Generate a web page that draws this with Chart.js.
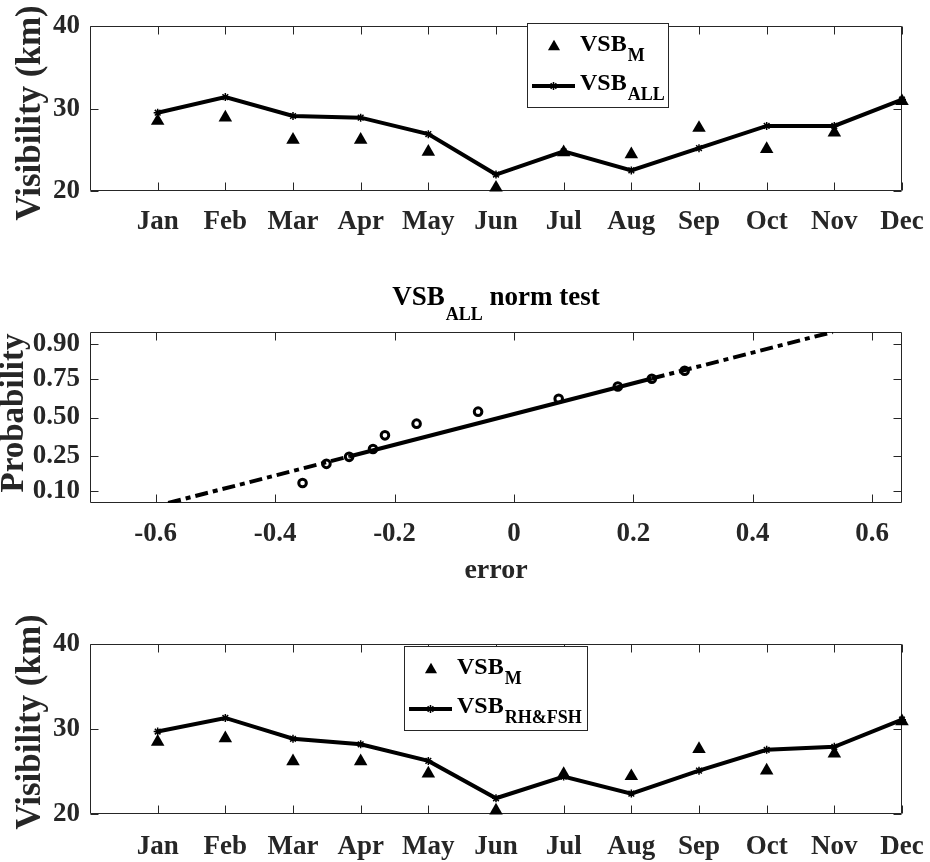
<!DOCTYPE html>
<html>
<head>
<meta charset="utf-8">
<script src="https://cdn.jsdelivr.net/npm/chart.js@4.4.0/dist/chart.umd.min.js"></script>
<style>
  body { margin: 0; background: #fff; width: 930px; height: 862px; overflow: hidden; position: relative; }
  .panel { position: absolute; left: 0; width: 930px; }
</style>
</head>
<body>
<div class="panel" style="top:0;height:250px"><canvas id="c1"></canvas></div>
<div class="panel" style="top:250px;height:350px"><canvas id="c2"></canvas></div>
<div class="panel" style="top:600px;height:262px"><canvas id="c3"></canvas></div>
<script>
// monthly visibility (km)
const months = ['Jan','Feb','Mar','Apr','May','Jun','Jul','Aug','Sep','Oct','Nov','Dec'];
const visTicks = [20, 30, 40];
const vsbM     = [28.5, 28.9, 26.2, 26.2, 24.75, 20.4, 24.7, 24.45, 27.65, 25.1, 27.1, 30.9];
const vsbAll   = [29.5, 31.4, 29.1, 28.9, 26.9, 22.0, 24.8, 22.5, 25.2, 27.9, 27.9, 31.1];
const vsbRhFsh = [29.7, 31.3, 28.85, 28.2, 26.25, 21.85, 24.4, 22.4, 25.1, 27.55, 27.9, 31.1];

// normal probability plot of the VSB_ALL error
const errX = [-0.354, -0.314, -0.276, -0.236, -0.216, -0.163, -0.060, 0.075, 0.174, 0.231, 0.286];
const errP = [0.125, 0.208, 0.245, 0.290, 0.377, 0.457, 0.541, 0.629, 0.707, 0.752, 0.794];
const fitX = [-0.579, -0.276, 0.231, 0.534];
const fitP = [0.0668, 0.247, 0.753, 0.9332];
const errTicks = [-0.6, -0.4, -0.2, 0, 0.2, 0.4, 0.6];
const probTicks = [0.10, 0.25, 0.50, 0.75, 0.90];
const probLabels = ['0.10', '0.25', '0.50', '0.75', '0.90'];

// inverse normal cdf (Acklam), used as the probability axis transform
function probit(p) {
  const a = [-39.69683028665376, 220.9460984245205, -275.9285104469687, 138.3577518672690, -30.66479806614716, 2.506628277459239];
  const b = [-54.47609879822406, 161.5858368580409, -155.6989798598866, 66.80131188771972, -13.28068155288572];
  const c = [-0.007784894002430293, -0.3223964580411365, -2.400758277161838, -2.549732539343734, 4.374664141464968, 2.938163982698783];
  const d = [0.007784695709041462, 0.3224671290700398, 2.445134137142996, 3.754408661907416];
  const pl = 0.02425;
  if (p < pl) {
    const q = Math.sqrt(-2 * Math.log(p));
    return (((((c[0]*q+c[1])*q+c[2])*q+c[3])*q+c[4])*q+c[5]) / ((((d[0]*q+d[1])*q+d[2])*q+d[3])*q+1);
  }
  if (p > 1 - pl) {
    const q = Math.sqrt(-2 * Math.log(1 - p));
    return -(((((c[0]*q+c[1])*q+c[2])*q+c[3])*q+c[4])*q+c[5]) / ((((d[0]*q+d[1])*q+d[2])*q+d[3])*q+1);
  }
  const q = p - 0.5, r = q * q;
  return (((((a[0]*r+a[1])*r+a[2])*r+a[3])*r+a[4])*r+a[5])*q / (((((b[0]*r+b[1])*r+b[2])*r+b[3])*r+b[4])*r+1);
}

const FONT = "'Liberation Serif', 'Times New Roman', Times, serif";
const INK = '#262626';
const tickFont = { family: FONT, size: 27, weight: 'bold' };

function subText(ctx, x, y, main, sub, size, subSize, drop) {
  ctx.font = 'bold ' + size + 'px ' + FONT;
  ctx.fillText(main, x, y);
  const w = ctx.measureText(main).width;
  ctx.font = 'bold ' + subSize + 'px ' + FONT;
  ctx.fillText(sub, x + w + 1, y + drop);
  return w + 1 + ctx.measureText(sub).width;
}

function triangle(ctx, cx, cy, r) {
  const h = 1.5 * r, hw = r * Math.sqrt(3) / 2;
  ctx.beginPath();
  ctx.moveTo(cx, cy - h / 2);
  ctx.lineTo(cx + hw, cy + h / 2);
  ctx.lineTo(cx - hw, cy + h / 2);
  ctx.closePath();
  ctx.fill();
}

function star(ctx, cx, cy, r) {
  ctx.lineWidth = 1.5;
  ctx.beginPath();
  ctx.moveTo(cx - r, cy); ctx.lineTo(cx + r, cy);
  ctx.moveTo(cx, cy - r); ctx.lineTo(cx, cy + r);
  const k = r * 0.707;
  ctx.moveTo(cx - k, cy - k); ctx.lineTo(cx + k, cy + k);
  ctx.moveTo(cx - k, cy + k); ctx.lineTo(cx + k, cy - k);
  ctx.stroke();
}

// box with inward ticks, like matlab axes
const frame = {
  id: 'frame',
  beforeDatasetsDraw(chart) {
    const { ctx, chartArea: a, scales: { x, y } } = chart;
    const L = Math.round(a.left) + 0.5, R = Math.round(a.right) - 0.5;
    const T = Math.round(a.top) + 0.5, B = Math.round(a.bottom) - 0.5;
    ctx.save();
    ctx.strokeStyle = INK;
    ctx.lineWidth = 1;
    ctx.beginPath();
    ctx.rect(L, T, R - L, B - T);
    x.ticks.forEach(t => {
      const px = Math.round(x.getPixelForValue(t.value)) + 0.5;
      ctx.moveTo(px, B); ctx.lineTo(px, B - 8);
      ctx.moveTo(px, T); ctx.lineTo(px, T + 8);
    });
    y.ticks.forEach(t => {
      const py = Math.round(y.getPixelForValue(t.value)) + 0.5;
      ctx.moveTo(L, py); ctx.lineTo(L + 8, py);
      ctx.moveTo(R, py); ctx.lineTo(R - 8, py);
    });
    ctx.stroke();
    ctx.restore();
  }
};

// rotated y label, drawn by hand so it can sit where matlab put it
function yLabel(text, size, baseX, centerY) {
  return {
    id: 'yLabel',
    afterDraw(chart) {
      const ctx = chart.ctx;
      ctx.save();
      ctx.translate(baseX, centerY);
      ctx.rotate(-Math.PI / 2);
      ctx.fillStyle = INK;
      ctx.textAlign = 'center';
      ctx.textBaseline = 'alphabetic';
      ctx.font = 'bold ' + size + 'px ' + FONT;
      ctx.fillText(text, 0, 0);
      ctx.restore();
    }
  };
}

function legendPlugin(box, lineSub) {
  return {
    id: 'miniLegend',
    afterDatasetsDraw(chart) {
      const ctx = chart.ctx;
      ctx.save();
      ctx.fillStyle = '#fff';
      ctx.fillRect(box.x, box.y, box.w, box.h);
      ctx.strokeStyle = INK;
      ctx.lineWidth = 1;
      ctx.strokeRect(box.x + 0.5, box.y + 0.5, box.w, box.h);
      ctx.fillStyle = '#000';
      triangle(ctx, box.x + 27, box.y + 22, 7);
      ctx.strokeStyle = '#000';
      ctx.lineWidth = 4;
      ctx.beginPath();
      ctx.moveTo(box.x + 5, box.y + 63);
      ctx.lineTo(box.x + 48, box.y + 63);
      ctx.stroke();
      star(ctx, box.x + 26.5, box.y + 63, 4);
      ctx.textBaseline = 'alphabetic';
      ctx.textAlign = 'left';
      subText(ctx, box.x + 53, box.y + 28, 'VSB', 'M', 24, 18, 10);
      subText(ctx, box.x + 53, box.y + 67, 'VSB', lineSub, 24, 18, 10);
      ctx.restore();
    }
  };
}

function monthChart(id, fit, padTop, axisH, labelPad, box, lineSub, labelY) {
  return new Chart(document.getElementById(id), {
    type: 'line',
    data: {
      datasets: [
        {
          data: vsbM.map((v, i) => ({ x: i + 1, y: v })),
          showLine: false,
          pointStyle: 'triangle',
          pointRadius: 7.8,
          pointBackgroundColor: '#000',
          pointBorderColor: '#000',
          pointBorderWidth: 0,
          clip: false
        },
        {
          data: fit.map((v, i) => ({ x: i + 1, y: v })),
          borderColor: '#000',
          borderWidth: 4,
          tension: 0,
          pointStyle: 'star',
          pointRadius: 4,
          pointBorderColor: '#000',
          pointBorderWidth: 1.5,
          clip: false
        }
      ]
    },
    options: {
      responsive: true,
      maintainAspectRatio: false,
      animation: false,
      layout: { padding: { top: padTop, right: 28, left: 0, bottom: 0 } },
      plugins: { legend: { display: false }, tooltip: { enabled: false } },
      scales: {
        x: {
          type: 'linear', min: 0, max: 12,
          afterBuildTicks: s => { s.ticks = months.map((m, i) => ({ value: i + 1 })); },
          afterFit: s => { s.height = axisH; s.paddingLeft = 0; s.paddingRight = 0; },
          grid: { display: false, drawTicks: false },
          border: { display: false },
          ticks: {
            autoSkip: false, maxRotation: 0, padding: labelPad,
            color: INK, font: tickFont,
            callback: v => months[Math.round(v) - 1]
          }
        },
        y: {
          type: 'linear', min: 20, max: 40,
          afterBuildTicks: s => { s.ticks = visTicks.map(v => ({ value: v })); },
          afterFit: s => { s.width = 90; },
          grid: { display: false, drawTicks: false },
          border: { display: false },
          ticks: { padding: 10, color: INK, font: tickFont }
        }
      }
    },
    plugins: [frame, legendPlugin(box, lineSub), yLabel('Visibility (km)', 35, 40, labelY)]
  });
}

monthChart('c1', vsbAll, 21, 59, 15, { x: 527, y: 23, w: 141, h: 84 }, 'ALL', 113);
monthChart('c3', vsbRhFsh, 44, 48, 17, { x: 404, y: 46, w: 183, h: 84 }, 'RH&FSH', 122);

const normTitle = {
  id: 'normTitle',
  afterDraw(chart) {
    const { ctx, chartArea: a } = chart;
    ctx.save();
    ctx.fillStyle = '#000';
    ctx.textBaseline = 'alphabetic';
    ctx.textAlign = 'left';
    ctx.font = 'bold 27px ' + FONT;
    const w1 = ctx.measureText('VSB').width;
    const w3 = ctx.measureText(' norm test').width;
    ctx.font = 'bold 18px ' + FONT;
    const w2 = ctx.measureText('ALL').width;
    const total = w1 + 1 + w2 + w3;
    const x0 = (a.left + a.right) / 2 - total / 2;
    const base = 55;
    const used = subText(ctx, x0, base, 'VSB', 'ALL', 27, 18, 15);
    ctx.font = 'bold 27px ' + FONT;
    ctx.fillText(' norm test', x0 + used, base);
    ctx.restore();
  }
};

const dashDot = [13, 5, 5, 5];

new Chart(document.getElementById('c2'), {
  type: 'scatter',
  data: {
    datasets: [
      {
        data: errX.map((x, i) => ({ x: x, y: probit(errP[i]) })),
        pointStyle: 'circle',
        pointRadius: 3.8,
        pointBorderWidth: 3,
        pointBorderColor: '#000',
        pointBackgroundColor: 'rgba(0,0,0,0)',
        showLine: false
      },
      {
        data: [0, 1].map(i => ({ x: fitX[i], y: probit(fitP[i]) })),
        showLine: true, borderColor: '#000', borderWidth: 4,
        borderDash: dashDot, pointRadius: 0
      },
      {
        data: [1, 2].map(i => ({ x: fitX[i], y: probit(fitP[i]) })),
        showLine: true, borderColor: '#000', borderWidth: 4, pointRadius: 0
      },
      {
        data: [2, 3].map(i => ({ x: fitX[i], y: probit(fitP[i]) })),
        showLine: true, borderColor: '#000', borderWidth: 4,
        borderDash: dashDot, pointRadius: 0
      }
    ]
  },
  options: {
    responsive: true,
    maintainAspectRatio: false,
    animation: false,
    layout: { padding: { top: 82, right: 28, left: 0, bottom: 0 } },
    plugins: { legend: { display: false }, tooltip: { enabled: false } },
    scales: {
      x: {
        type: 'linear', min: -0.71, max: 0.65,
        afterBuildTicks: s => { s.ticks = errTicks.map(v => ({ value: v })); },
        afterFit: s => { s.height = 97; s.paddingLeft = 0; s.paddingRight = 0; },
        grid: { display: false, drawTicks: false },
        border: { display: false },
        ticks: {
          autoSkip: false, maxRotation: 0, padding: 15, color: INK, font: tickFont,
          callback: v => String(errTicks.find(t => Math.abs(t - v) < 1e-9))
        },
        title: {
          display: true, text: 'error', color: INK,
          font: { family: FONT, size: 28, weight: 'bold' },
          padding: { top: 0, bottom: 12 }
        }
      },
      y: {
        type: 'linear', min: -1.5, max: 1.5,
        afterBuildTicks: s => { s.ticks = probTicks.map(p => ({ value: probit(p) })); },
        afterFit: s => { s.width = 90; },
        grid: { display: false, drawTicks: false },
        border: { display: false },
        ticks: {
          padding: 10, color: INK, font: tickFont,
          callback: (v, i) => probLabels[i]
        }
      }
    }
  },
  plugins: [frame, normTitle, yLabel('Probability', 33, 23, 163)]
});
</script>
</body>
</html>
